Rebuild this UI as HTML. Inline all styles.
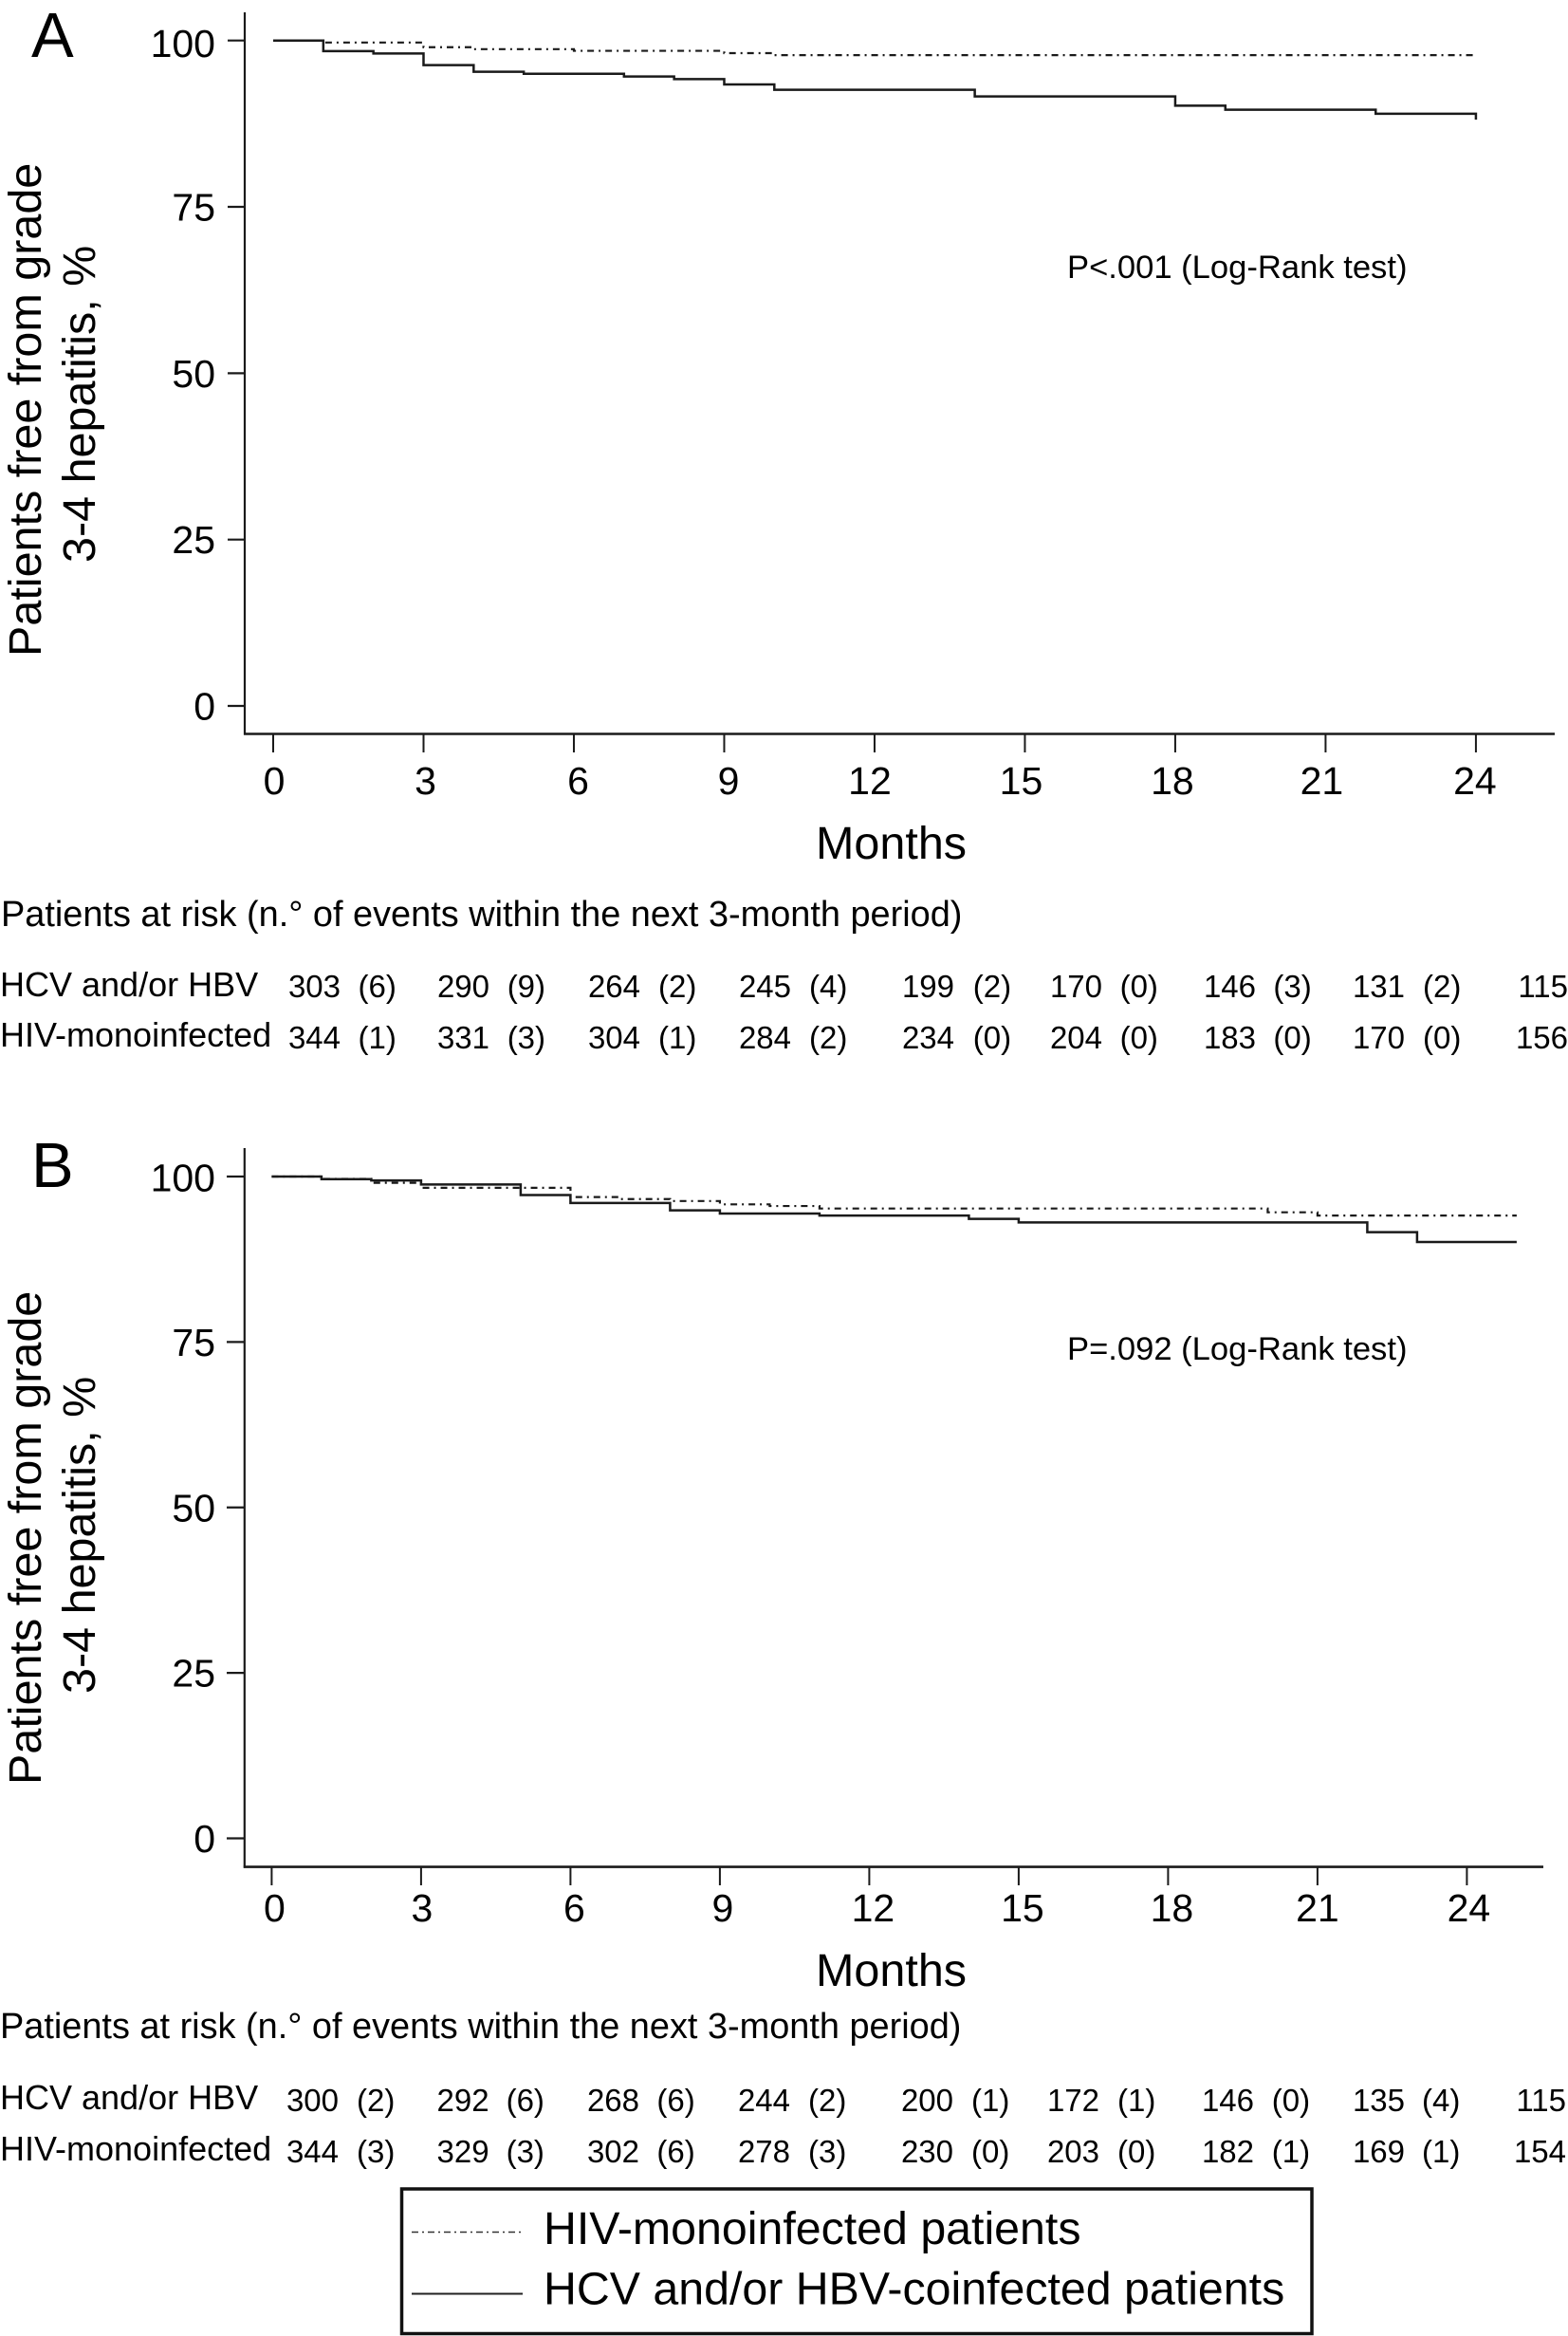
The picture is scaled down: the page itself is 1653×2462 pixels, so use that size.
<!DOCTYPE html>
<html lang="en">
<head>
<meta charset="utf-8">
<title>Patients free from grade 3-4 hepatitis</title>
<style>
  html, body { margin: 0; padding: 0; background: #fff; }
  body { width: 1653px; height: 2462px; overflow: hidden; }
  svg { display: block; font-family: "Liberation Sans", Arial, sans-serif; fill: #000; }
  .tick { font-size: 41px; }
  .title { font-size: 48.5px; }
  .risk-head { font-size: 37.9px; }
  .risk-label { font-size: 36px; }
  .risk-num { font-size: 33px; }
  .pval { font-size: 34.6px; }
  .letter { font-size: 67px; }
  .legend-text { font-size: 48.3px; }
</style>
</head>
<body>
<svg id="figure" xmlns="http://www.w3.org/2000/svg" width="1653" height="2462" viewBox="0 0 1653 2462">
  <rect x="0" y="0" width="1653" height="2462" fill="#fff"/>

  <text class="letter" x="33" y="60">A</text>
  <text class="title" transform="translate(43 692) rotate(-90)">Patients free from grade</text>
  <text class="title" transform="translate(100 593) rotate(-90)">3-4 hepatitis, %</text>
  <text class="title" x="860" y="905">Months</text>
  <text class="pval" x="1125" y="293">P&lt;.001 (Log-Rank test)</text>
  <text class="risk-head" x="1" y="976">Patients at risk (n.° of events within the next 3-month period)</text>
  <text class="risk-label" x="0" y="1050">HCV and/or HBV</text>
  <text class="risk-label" x="0" y="1103">HIV-monoinfected</text>

  <text class="letter" x="33" y="1251">B</text>
  <text class="title" transform="translate(43 1881) rotate(-90)">Patients free from grade</text>
  <text class="title" transform="translate(100 1785) rotate(-90)">3-4 hepatitis, %</text>
  <text class="title" x="860" y="2093">Months</text>
  <text class="pval" x="1125" y="1433">P=.092 (Log-Rank test)</text>
  <text class="risk-head" x="0" y="2148">Patients at risk (n.° of events within the next 3-month period)</text>
  <text class="risk-label" x="0" y="2223">HCV and/or HBV</text>
  <text class="risk-label" x="0" y="2277">HIV-monoinfected</text>

  <g>
    <rect x="423.5" y="2307" width="959.5" height="152.5" fill="none" stroke="#111" stroke-width="3.5"/>
    <line x1="434" y1="2352.5" x2="551" y2="2352.5" stroke="#333" stroke-width="1.4" stroke-dasharray="7 4 2 4"/>
    <text class="legend-text" x="573" y="2365">HIV-monoinfected patients</text>
    <line x1="434" y1="2417.5" x2="551" y2="2417.5" stroke="#222" stroke-width="2"/>
    <text class="legend-text" x="573" y="2428.5">HCV and/or HBV-coinfected patients</text>
  </g>
</svg>

<script>
// ---- Axis tick labels ----
const monthTicks = [0, 3, 6, 9, 12, 15, 18, 21, 24];
const percentTicks = [100, 75, 50, 25, 0];

// ---- Panel A series: step curves (month of step, percent free of event) ----
const panelAHcvMonths = [0, 1, 2, 3, 4, 5, 7, 8, 9, 10, 14, 18, 19, 22, 24];
const panelAHcvValues = [100, 98.4, 98.05, 96.3, 95.3, 95.0, 94.6, 94.2, 93.4, 92.6, 91.6, 90.2, 89.6, 89.0, 88.1];
const panelAHivMonths = [0, 1, 3, 4, 6, 9, 10, 24];
const panelAHivValues = [100, 99.7, 99.0, 98.7, 98.45, 98.1, 97.8, 97.8];

// ---- Panel B series ----
const panelBHcvMonths = [0, 1, 2, 3, 5, 6, 8, 9, 11, 14, 15, 22, 23, 25];
const panelBHcvValues = [100, 99.6, 99.4, 98.8, 97.2, 96.0, 94.9, 94.4, 94.1, 93.6, 93.06, 91.6, 90.1, 90.1];
const panelBHivMonths = [0, 1, 2, 3, 6, 7, 8, 9, 10, 11, 20, 21, 25];
const panelBHivValues = [100, 99.65, 99.05, 98.3, 96.9, 96.6, 96.3, 95.8, 95.55, 95.17, 94.6, 94.1, 94.1];

// ---- Risk tables: patients at risk, events in the next 3-month period ----
const panelAHcvAtRisk = [303, 290, 264, 245, 199, 170, 146, 131, 115];
const panelAHcvEvents = [6, 9, 2, 4, 2, 0, 3, 2];
const panelAHivAtRisk = [344, 331, 304, 284, 234, 204, 183, 170, 156];
const panelAHivEvents = [1, 3, 1, 2, 0, 0, 0, 0];
const panelBHcvAtRisk = [300, 292, 268, 244, 200, 172, 146, 135, 115];
const panelBHcvEvents = [2, 6, 6, 2, 1, 1, 0, 4];
const panelBHivAtRisk = [344, 329, 302, 278, 230, 203, 182, 169, 154];
const panelBHivEvents = [3, 3, 6, 3, 0, 0, 1, 1];

const SVG_NS = 'http://www.w3.org/2000/svg';
const root = document.getElementById('figure');

function axisX(layout, month) { return layout.x0 + month * layout.pxPerMonth; }
function axisY(layout, pct) { return layout.y0 - pct * (layout.y0 - layout.y100) / 100; }

function stepPath(layout, months, values) {
  let d = 'M' + axisX(layout, months[0]) + ' ' + axisY(layout, values[0]);
  for (let i = 1; i < months.length; i++) {
    d += 'H' + axisX(layout, months[i]) + 'V' + axisY(layout, values[i]);
  }
  return d;
}

function drawLine(x1, y1, x2, y2, width) {
  const el = document.createElementNS(SVG_NS, 'line');
  el.setAttribute('x1', x1);
  el.setAttribute('y1', y1);
  el.setAttribute('x2', x2);
  el.setAttribute('y2', y2);
  el.setAttribute('stroke', '#1a1a1a');
  el.setAttribute('stroke-width', width);
  root.appendChild(el);
  return el;
}

function drawLabel(cls, x, y, anchor, content) {
  const el = document.createElementNS(SVG_NS, 'text');
  el.setAttribute('class', cls);
  el.setAttribute('x', x);
  el.setAttribute('y', y);
  el.setAttribute('text-anchor', anchor);
  el.textContent = content;
  root.appendChild(el);
  return el;
}

function drawPanel(layout, hcvMonths, hcvValues, hivMonths, hivValues) {
  const yAxis = drawLine(layout.axisX, layout.axisTop, layout.axisX, layout.axisBottom + 1, 2.2);
  
  

  const xAxis = drawLine(layout.axisX - 1, layout.axisBottom, layout.axisRight, layout.axisBottom, 2.6);
  
  

  percentTicks.forEach(function (pct, i) {
    const y = axisY(layout, pct);
    const tick = drawLine(layout.yTickLeft, y, layout.axisX, y, 2.2);
    
    
    const label = drawLabel('tick', layout.yLabelRight, y + 14.5 + (i === 0 ? layout.topLabelShift : 0), 'end', pct);
    
    
  });

  monthTicks.forEach(function (month, i) {
    const x = axisX(layout, month);
    const tick = drawLine(x, layout.axisBottom, x, layout.xTickBottom, 2);
    
    
    const label = drawLabel('tick', x + layout.xLabelNudge[i], layout.xLabelBaseline, 'middle', month);
    
    
  });

  const hiv = document.createElementNS(SVG_NS, 'path');
  hiv.setAttribute('d', stepPath(layout, hivMonths, hivValues));
  hiv.setAttribute('fill', 'none');
  hiv.setAttribute('stroke', '#1a1a1a');
  hiv.setAttribute('stroke-width', '2.2');
  hiv.setAttribute('stroke-dasharray', '7 5 2 5');
  
  
  root.appendChild(hiv);

  const hcv = document.createElementNS(SVG_NS, 'path');
  hcv.setAttribute('d', stepPath(layout, hcvMonths, hcvValues));
  hcv.setAttribute('fill', 'none');
  hcv.setAttribute('stroke', '#1a1a1a');
  hcv.setAttribute('stroke-width', '2.5');
  
  
  root.appendChild(hcv);
}

function drawRiskRow(prefix, layout, baseline, atRisk, events) {
  atRisk.forEach(function (count, i) {
    const num = drawLabel('risk-num', layout.numRight[i], baseline, 'end', count);
    
    
  });
  events.forEach(function (count, i) {
    const ev = drawLabel('risk-num', layout.eventLeft[i], baseline, 'start', '(' + count + ')');
    
    
  });
}

const layoutA = {
  id: 'panel-a', x0: 288, pxPerMonth: 52.83, y100: 42.7, y0: 744,
  axisX: 258, axisTop: 13, axisBottom: 773.5, axisRight: 1639,
  yTickLeft: 240, yLabelRight: 227, topLabelShift: 3,
  xTickBottom: 793, xLabelBaseline: 837,
  xLabelNudge: [1, 2, 4.5, 4.5, -5, -4, -3, -4, -1],
  numRight: [359, 516, 675, 834, 1006, 1162, 1324, 1481, 1653],
  eventLeft: [377.5, 534.7, 694, 853, 1025.8, 1180.6, 1342.4, 1500]
};
const layoutB = {
  id: 'panel-b', x0: 286.4, pxPerMonth: 52.5, y100: 1240, y0: 1937.5,
  axisX: 257.8, axisTop: 1210, axisBottom: 1967.6, axisRight: 1627,
  yTickLeft: 239, yLabelRight: 227, topLabelShift: 1,
  xTickBottom: 1987, xLabelBaseline: 2025,
  xLabelNudge: [3, 1, 4, 3, 4, 4, 4, 0, 2],
  numRight: [357, 515.6, 674, 833, 1005, 1159, 1322, 1481, 1651],
  eventLeft: [376, 533.6, 692.4, 852, 1024, 1178, 1340.8, 1499]
};

drawPanel(layoutA, panelAHcvMonths, panelAHcvValues, panelAHivMonths, panelAHivValues);
drawPanel(layoutB, panelBHcvMonths, panelBHcvValues, panelBHivMonths, panelBHivValues);
drawRiskRow('panel-a-hcv', layoutA, 1051, panelAHcvAtRisk, panelAHcvEvents);
drawRiskRow('panel-a-hiv', layoutA, 1105, panelAHivAtRisk, panelAHivEvents);
drawRiskRow('panel-b-hcv', layoutB, 2225, panelBHcvAtRisk, panelBHcvEvents);
drawRiskRow('panel-b-hiv', layoutB, 2279, panelBHivAtRisk, panelBHivEvents);
</script>
</body>
</html>
